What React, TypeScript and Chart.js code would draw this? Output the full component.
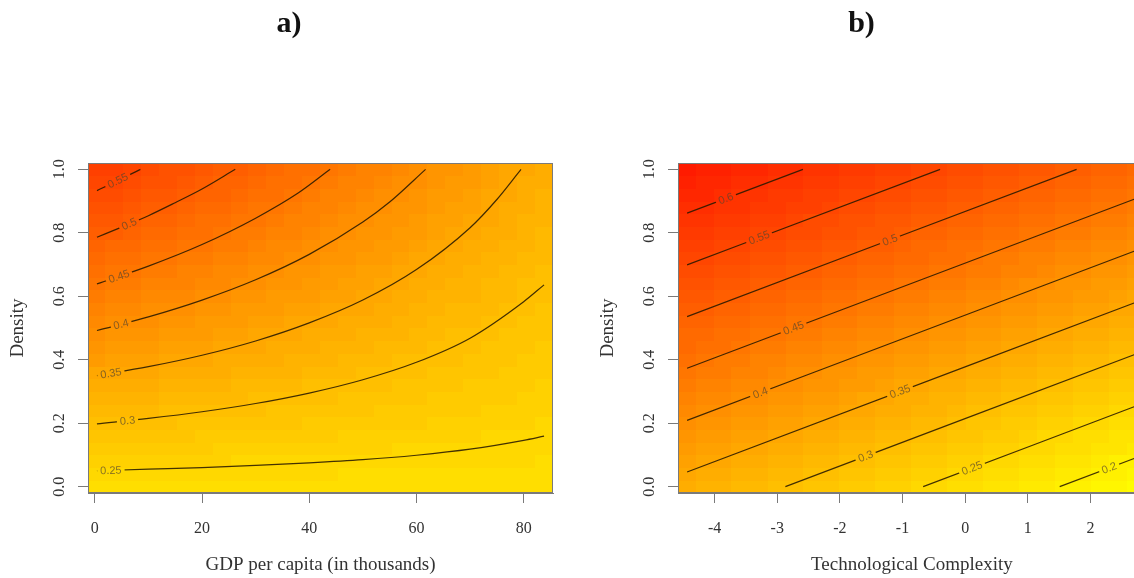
import React, { useEffect, useRef } from "react";
import { Chart, registerables } from "chart.js";

Chart.register(...registerables);

// ---------- grid categories ----------
const gdpCenters = [0.4, 3.74, 7.07, 10.41, 13.74, 17.08, 20.42, 23.75, 27.09, 30.42, 33.76, 37.1, 40.43, 43.77, 47.1, 50.44, 53.78, 57.11, 60.45, 63.78, 67.12, 70.46, 73.79, 77.13, 80.46, 83.8];
const densityCenters = [0, 0.04, 0.08, 0.12, 0.16, 0.2, 0.24, 0.28, 0.32, 0.36, 0.4, 0.44, 0.48, 0.52, 0.56, 0.6, 0.64, 0.68, 0.72, 0.76, 0.8, 0.84, 0.88, 0.92, 0.96, 1];
const techCenters = [-4.44, -4.15, -3.87, -3.58, -3.29, -3.0, -2.72, -2.43, -2.14, -1.86, -1.57, -1.28, -0.99, -0.71, -0.42, -0.13, 0.16, 0.44, 0.73, 1.02, 1.3, 1.59, 1.88, 2.17, 2.45, 2.74];

// ---------- tick labels ----------
const gdpTicks = [0, 20, 40, 60, 80];
const techTicks = [-4, -3, -2, -1, 0, 1, 2];
const densityTicks = [0, 0.2, 0.4, 0.6, 0.8, 1.0];

// ---------- surfaces (value x 1000), rows = density bottom->top, cols = x left->right ----------
const gdpSurface = [
  [233,233,233,233,233,233,233,233,233,233,233,233,233,233,233,233,233,233,233,233,233,233,233,233,233,233],
  [247,246,246,245,245,245,244,244,244,243,243,242,242,242,241,241,241,240,240,239,239,239,238,238,238,237],
  [260,259,259,258,257,256,256,255,254,253,253,252,251,250,250,249,248,247,247,246,245,244,244,243,242,241],
  [274,273,271,270,269,268,267,266,265,264,262,261,260,259,258,257,256,254,253,252,251,250,249,248,247,245],
  [287,286,284,283,281,280,278,277,275,274,272,271,269,268,266,265,263,262,260,259,257,256,254,253,251,250],
  [301,299,297,295,293,291,289,288,286,284,282,280,278,276,274,273,271,269,267,265,263,261,259,258,256,254],
  [314,312,310,308,305,303,301,299,296,294,292,289,287,285,283,280,278,276,274,271,269,267,265,262,260,258],
  [328,325,323,320,317,315,312,309,307,304,302,299,296,294,291,288,286,283,280,278,275,273,270,267,265,262],
  [341,338,335,332,329,326,323,320,317,314,311,308,305,302,299,296,293,290,287,284,281,278,275,272,269,266],
  [355,352,348,345,341,338,335,331,328,325,321,318,314,311,308,304,301,297,294,291,287,284,280,277,274,270],
  [369,365,361,357,354,350,346,342,338,335,331,327,323,320,316,312,308,305,301,297,293,290,286,282,278,274],
  [382,378,374,370,366,361,357,353,349,345,341,337,332,328,324,320,316,312,308,303,299,295,291,287,283,279],
  [396,391,387,382,378,373,369,364,360,355,351,346,341,337,332,328,323,319,314,310,305,301,296,292,287,283],
  [409,404,399,395,390,385,380,375,370,365,360,355,351,346,341,336,331,326,321,316,311,306,302,297,292,287],
  [423,418,412,407,402,396,391,386,381,375,370,365,360,354,349,344,338,333,328,323,317,312,307,302,296,291],
  [436,431,425,419,414,408,402,397,391,386,380,374,369,363,357,352,346,340,335,329,323,318,312,307,301,295],
  [450,444,438,432,426,420,414,408,402,396,390,384,378,372,366,360,354,348,342,335,329,323,317,311,305,299],
  [463,457,451,444,438,431,425,419,412,406,399,393,387,380,374,367,361,355,348,342,336,329,323,316,310,304],
  [477,470,463,457,450,443,436,430,423,416,409,402,396,389,382,375,369,362,355,348,342,335,328,321,314,308],
  [491,483,476,469,462,455,448,441,433,426,419,412,405,398,390,383,376,369,362,355,348,340,333,326,319,312],
  [504,497,489,482,474,466,459,451,444,436,429,421,414,406,399,391,384,376,369,361,354,346,339,331,323,316],
  [518,510,502,494,486,478,470,462,454,447,439,431,423,415,407,399,391,383,375,368,360,352,344,336,328,320],
  [531,523,515,506,498,490,482,473,465,457,448,440,432,424,415,407,399,390,382,374,366,357,349,341,333,324],
  [545,536,527,519,510,501,493,484,476,467,458,450,441,432,424,415,406,398,389,380,372,363,354,346,337,328],
  [558,549,540,531,522,513,504,495,486,477,468,459,450,441,432,423,414,405,396,387,378,369,360,351,342,333],
  [572,562,553,544,534,525,515,506,497,487,478,468,459,450,440,431,421,412,403,393,384,374,365,356,346,337],
];

const techSurface = [
  [336,330,323,316,310,303,297,290,284,277,271,264,257,251,244,238,231,225,218,212,205,198,192,185,179,172],
  [348,342,335,329,322,316,309,302,296,289,283,276,270,263,257,250,243,237,230,224,217,211,204,198,191,184],
  [361,354,348,341,334,328,321,315,308,302,295,289,282,275,269,262,256,249,243,236,229,223,216,210,203,197],
  [373,366,360,353,347,340,334,327,320,314,307,301,294,288,281,275,268,261,255,248,242,235,229,222,216,209],
  [385,379,372,365,359,352,346,339,333,326,320,313,306,300,293,287,280,274,267,261,254,247,241,234,228,221],
  [397,391,384,378,371,365,358,351,345,338,332,325,319,312,306,299,292,286,279,273,266,260,253,247,240,233],
  [410,403,396,390,383,377,370,364,357,351,344,337,331,324,318,311,305,298,292,285,278,272,265,259,252,246],
  [422,415,409,402,396,389,382,376,369,363,356,350,343,337,330,323,317,310,304,297,291,284,278,271,264,258],
  [434,428,421,414,408,401,395,388,382,375,369,362,355,349,342,336,329,323,316,309,303,296,290,283,277,270],
  [446,440,433,427,420,414,407,400,394,387,381,374,368,361,355,348,341,335,328,322,315,309,302,296,289,282],
  [459,452,445,439,432,426,419,413,406,400,393,386,380,373,367,360,354,347,341,334,327,321,314,308,301,295],
  [471,464,458,451,445,438,431,425,418,412,405,399,392,386,379,372,366,359,353,346,340,333,327,320,313,307],
  [483,476,470,463,457,450,444,437,431,424,417,411,404,398,391,385,378,372,365,358,352,345,339,332,326,319],
  [495,489,482,476,469,462,456,449,443,436,430,423,417,410,403,397,390,384,377,371,364,358,351,344,338,331],
  [508,501,494,488,481,475,468,462,455,449,442,435,429,422,416,409,403,396,389,383,376,370,363,357,350,344],
  [520,513,507,500,494,487,480,474,467,461,454,448,441,435,428,421,415,408,402,395,389,382,376,369,362,356],
  [532,525,519,512,506,499,493,486,480,473,466,460,453,447,440,434,427,421,414,407,401,394,388,381,375,368],
  [544,538,531,525,518,511,505,498,492,485,479,472,466,459,452,446,439,433,426,420,413,407,400,393,387,380],
  [556,550,543,537,530,524,517,511,504,497,491,484,478,471,465,458,452,445,438,432,425,419,412,406,399,393],
  [569,562,556,549,542,536,529,523,516,510,503,497,490,483,477,470,464,457,451,444,438,431,424,418,411,405],
  [581,574,568,561,555,548,542,535,528,522,515,509,502,496,489,483,476,469,463,456,450,443,437,430,424,417],
  [593,587,580,574,567,560,554,547,541,534,528,521,515,508,501,495,488,482,475,469,462,455,449,442,436,429],
  [605,599,592,586,579,573,566,560,553,546,540,533,527,520,514,507,501,494,487,481,474,468,461,455,448,442],
  [618,611,605,598,591,585,578,572,565,559,552,546,539,532,526,519,513,506,500,493,487,480,473,467,460,454],
  [630,623,617,610,604,597,591,584,577,571,564,558,551,545,538,532,525,518,512,505,499,492,486,479,473,466],
  [642,636,629,622,616,609,603,596,590,583,577,570,563,557,550,544,537,531,524,518,511,504,498,491,485,478],
];

// ---------- contour lines ----------
const gdpLevels = [0.25, 0.3, 0.35, 0.4, 0.45, 0.5, 0.55];
const gdpLines = [
  [[0.4, 0.05], [10, 0.055], [20, 0.06], [30, 0.067], [40, 0.075], [50, 0.085], [60, 0.099], [70, 0.118], [80, 0.146], [83.8, 0.159]],
  [[0.4, 0.198], [10, 0.215], [20, 0.236], [30, 0.262], [40, 0.295], [50, 0.337], [60, 0.392], [70, 0.468], [80, 0.583], [83.8, 0.636]],
  [[0.4, 0.35], [10, 0.378], [20, 0.414], [30, 0.459], [40, 0.516], [50, 0.588], [60, 0.684], [70, 0.816], [75, 0.905], [79.5, 1.0]],
  [[0.4, 0.492], [10, 0.535], [20, 0.588], [30, 0.652], [40, 0.732], [50, 0.834], [55, 0.897], [61.7, 1.0]],
  [[0.4, 0.639], [10, 0.695], [20, 0.763], [30, 0.846], [38, 0.926], [43.9, 1.0]],
  [[0.4, 0.786], [5, 0.818], [10, 0.854], [15, 0.895], [20, 0.938], [26.2, 1.0]],
  [[0.4, 0.933], [4, 0.962], [8.5, 1.0]],
];
const gdpLabelX = [3.0, 6.1, 3.0, 4.9, 4.5, 6.4, 4.3];

const techLevels = [0.2, 0.25, 0.3, 0.35, 0.4, 0.45, 0.5, 0.55, 0.6];
const techLines = [
  [[1.51, 0], [2.74, 0.092]],
  [[-0.67, 0], [2.74, 0.255]],
  [[-2.87, 0], [2.74, 0.419]],
  [[-4.44, 0.046], [2.74, 0.582]],
  [[-4.44, 0.209], [2.74, 0.745]],
  [[-4.44, 0.373], [2.74, 0.909]],
  [[-4.44, 0.536], [1.78, 1.0]],
  [[-4.44, 0.699], [-0.4, 1.0]],
  [[-4.44, 0.862], [-2.59, 1.0]],
];
const techLabelX = [2.3, 0.11, -1.59, -1.04, -3.27, -2.74, -1.2, -3.29, -3.82];

// ---------- styling ----------
const AXIS = "#7a7a7a";
const TEXT = "#333333";
const LINE = "rgba(40,25,0,0.88)";
const LABEL = "rgba(85,70,45,0.7)";
const SERIF = "'Liberation Serif', 'Times New Roman', serif";
const PALETTE_STEPS = 42;

function colorFor(v: number) {
  const raw = Math.min(0.9999, Math.max(0, (v - 0.165) / 0.535));
  const t = (Math.floor(raw * PALETTE_STEPS) + 0.5) / PALETTE_STEPS;
  const g = Math.round(255 * (1 - t));
  return `rgb(255,${g},0)`;
}

function edges(c: number[]) {
  const n = c.length;
  const e = [c[0] - (c[1] - c[0]) / 2];
  for (let k = 1; k < n; k++) e.push((c[k - 1] + c[k]) / 2);
  e.push(c[n - 1] + (c[n - 1] - c[n - 2]) / 2);
  return e;
}

type PanelSpec = {
  xCenters: number[];
  yCenters: number[];
  surface: number[][];
  levels: number[];
  lines: number[][][];
  labelX: number[];
  xTicks: number[];
  xTitle: string;
  padLeft: number;
  padRight: number;
};

function buildChart(canvas: HTMLCanvasElement, p: PanelSpec) {
  const xe = edges(p.xCenters);
  const ye = edges(p.yCenters);

  const drawCells = (chart: any) => {
    const { ctx, scales } = chart;
    const xs = scales.x;
    const ys = scales.y;
    for (let i = 0; i < p.yCenters.length; i++) {
      for (let j = 0; j < p.xCenters.length; j++) {
        const x0 = Math.floor(xs.getPixelForValue(xe[j]));
        const x1 = Math.ceil(xs.getPixelForValue(xe[j + 1]));
        const y0 = Math.floor(ys.getPixelForValue(ye[i + 1]));
        const y1 = Math.ceil(ys.getPixelForValue(ye[i]));
        ctx.fillStyle = colorFor(p.surface[i][j] / 1000);
        ctx.fillRect(x0, y0, x1 - x0, y1 - y0);
      }
    }
  };

  const heatPlugin = {
    id: "heat",
    beforeDatasetsDraw(chart: any) {
      const { ctx, chartArea } = chart;
      ctx.save();
      ctx.beginPath();
      ctx.rect(chartArea.left, chartArea.top, chartArea.right - chartArea.left, chartArea.bottom - chartArea.top);
      ctx.clip();
      drawCells(chart);
      ctx.restore();
    },
  };

  const labelPlugin = {
    id: "contourLabels",
    afterDatasetsDraw(chart: any) {
      const { ctx, scales, chartArea } = chart;
      const xs = scales.x;
      const ys = scales.y;
      ctx.save();
      ctx.font = "11px 'Liberation Sans', Arial, sans-serif";
      p.levels.forEach((lv, k) => {
        const pts = p.lines[k].map(([a, b]) => [xs.getPixelForValue(a), ys.getPixelForValue(b)]);
        const px = xs.getPixelForValue(p.labelX[k]);
        let s = 0;
        while (s < pts.length - 2 && pts[s + 1][0] < px) s++;
        const [ax, ay] = pts[s];
        const [bx, by] = pts[s + 1];
        const t = (px - ax) / (bx - ax);
        const py = ay + t * (by - ay);
        const ang = Math.atan2(by - ay, bx - ax);
        const text = String(lv);
        const w = ctx.measureText(text).width;
        ctx.save();
        ctx.beginPath();
        ctx.rect(chartArea.left, chartArea.top, chartArea.right - chartArea.left, chartArea.bottom - chartArea.top);
        ctx.clip();
        ctx.translate(px, py);
        ctx.rotate(ang);
        ctx.beginPath();
        ctx.rect(-w / 2 - 3, -6, w + 6, 12);
        ctx.rotate(-ang);
        ctx.translate(-px, -py);
        ctx.clip();
        drawCells(chart);
        ctx.restore();
        ctx.save();
        ctx.translate(px, py);
        ctx.rotate(ang);
        ctx.fillStyle = LABEL;
        ctx.textAlign = "center";
        ctx.textBaseline = "middle";
        ctx.fillText(text, 0, 0.5);
        ctx.restore();
      });
      ctx.restore();
    },
  };

  const boxPlugin = {
    id: "box",
    afterDraw(chart: any) {
      const { ctx, chartArea } = chart;
      ctx.save();
      ctx.strokeStyle = AXIS;
      ctx.lineWidth = 1;
      ctx.strokeRect(
        Math.round(chartArea.left) + 0.5,
        Math.round(chartArea.top) + 0.5,
        Math.round(chartArea.right - chartArea.left) - 1,
        Math.round(chartArea.bottom - chartArea.top) - 1
      );
      ctx.restore();
    },
  };

  const datasets = p.lines.map((pts) => ({
    data: pts.map(([x, y]) => ({ x, y })),
    showLine: true,
    pointRadius: 0,
    borderColor: LINE,
    borderWidth: 1.2,
    cubicInterpolationMode: "monotone" as const,
    fill: false,
  }));

  return new Chart(canvas, {
    type: "scatter",
    data: { datasets },
    options: {
      responsive: false,
      animation: false,
      events: [],
      layout: { padding: { left: p.padLeft, right: p.padRight, top: 163, bottom: 0 } },
      plugins: {
        legend: { display: false },
        tooltip: { enabled: false },
        title: { display: false },
      },
      scales: {
        x: {
          type: "linear",
          min: xe[0],
          max: xe[xe.length - 1],
          afterBuildTicks: (s: any) => {
            s.ticks = p.xTicks.map((v) => ({ value: v }));
          },
          afterFit: (s: any) => {
            s.height = 85;
          },
          grid: { drawOnChartArea: false, drawTicks: true, tickLength: 10, color: AXIS, lineWidth: 1 },
          border: { display: true, color: AXIS, width: 1 },
          ticks: {
            color: TEXT,
            font: { family: SERIF, size: 16 },
            padding: 16,
            maxRotation: 0,
            minRotation: 0,
            callback: (v: any) => String(v),
          },
          title: {
            display: true,
            text: p.xTitle,
            color: TEXT,
            font: { family: SERIF, size: 19 },
            padding: { top: 0, bottom: 2 },
          },
        },
        y: {
          type: "linear",
          min: ye[0],
          max: ye[ye.length - 1],
          afterBuildTicks: (s: any) => {
            s.ticks = densityTicks.map((v) => ({ value: v }));
          },
          afterFit: (s: any) => {
            s.width = 88;
          },
          grid: { drawOnChartArea: false, drawTicks: true, tickLength: 10, color: AXIS, lineWidth: 1 },
          border: { display: true, color: AXIS, width: 1 },
          ticks: {
            color: TEXT,
            font: { family: SERIF, size: 16 },
            padding: 8.5,
            minRotation: 90,
            maxRotation: 90,
            crossAlign: "center",
            callback: (v: any) => Number(v).toFixed(1),
          },
          title: {
            display: true,
            text: "Density",
            color: TEXT,
            font: { family: SERIF, size: 19 },
            padding: { top: 6.6, bottom: 0 },
          },
        },
      },
    },
    plugins: [heatPlugin, labelPlugin, boxPlugin],
  } as any);
}

const panelA: PanelSpec = {
  xCenters: gdpCenters,
  yCenters: densityCenters,
  surface: gdpSurface,
  levels: gdpLevels,
  lines: gdpLines,
  labelX: gdpLabelX,
  xTicks: gdpTicks,
  xTitle: "GDP per capita (in thousands)",
  padLeft: 0,
  padRight: 14,
};

const panelB: PanelSpec = {
  xCenters: techCenters,
  yCenters: densityCenters,
  surface: techSurface,
  levels: techLevels,
  lines: techLines,
  labelX: techLabelX,
  xTicks: techTicks,
  xTitle: "Technological Complexity",
  padLeft: 23,
  padRight: 21.2,
};

function Panel({ spec, left, width }: { spec: PanelSpec; left: number; width: number }) {
  const ref = useRef<HTMLCanvasElement>(null);
  useEffect(() => {
    const chart = buildChart(ref.current as HTMLCanvasElement, spec);
    return () => chart.destroy();
  }, [spec]);
  return (
    <canvas
      ref={ref}
      width={width}
      height={578}
      style={{ position: "absolute", left, top: 0, width, height: 578 }}
    />
  );
}

const titleStyle = (cx: number): React.CSSProperties => ({
  position: "absolute",
  left: cx - 50,
  top: 7,
  width: 100,
  textAlign: "center",
  fontFamily: SERIF,
  fontWeight: "bold",
  fontSize: 30,
  lineHeight: "30px",
  color: "#111",
});

export default function App() {
  return (
    <div
      style={{
        position: "absolute",
        left: 0,
        top: 0,
        width: 1134,
        height: 578,
        overflow: "hidden",
        background: "#ffffff",
      }}
    >
      <Panel spec={panelA} left={0} width={567} />
      <Panel spec={panelB} left={567} width={600} />
      <div style={titleStyle(289)}>a)</div>
      <div style={titleStyle(861.5)}>b)</div>
    </div>
  );
}
